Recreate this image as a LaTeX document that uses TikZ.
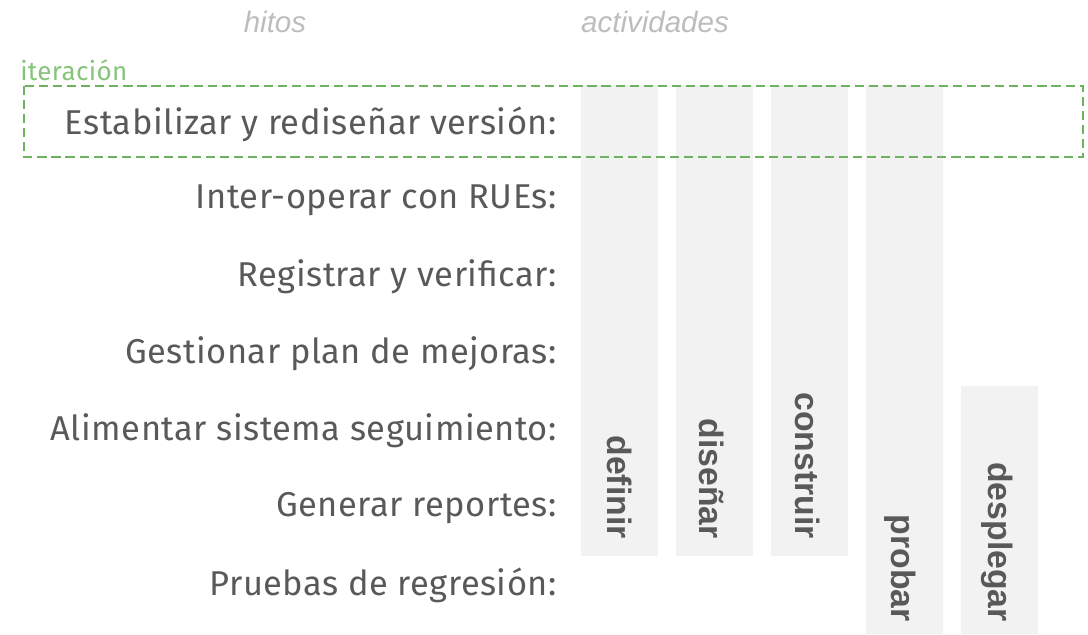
\documentclass[tikz,border=0pt]{standalone}
\usepackage{fontspec}
\setmainfont{Fira Sans}[LetterSpace=1.5]
\newfontfamily\headfont{Liberation Sans}
\usepackage{tikz}
\usetikzlibrary{positioning}

\definecolor{textgray}{HTML}{595959}
\definecolor{headgray}{HTML}{BDBDBD}
\definecolor{bargray}{HTML}{F2F2F2}
\definecolor{itergreen}{HTML}{6DB25E}
\definecolor{iterlabel}{HTML}{86C47A}

\tikzset{
  hito/.style={anchor=east, text=textgray, font=\fontsize{24.5}{30}\selectfont, inner sep=0pt},
  head/.style={text=headgray, font=\headfont\itshape\fontsize{21}{25}\selectfont, inner sep=0pt},
  activ/.style={anchor=east, rotate=-90, text=textgray, font=\headfont\bfseries\fontsize{24}{28}\selectfont, inner sep=0pt}
}

\begin{document}
\begin{tikzpicture}[x=0.025cm, y=-0.025cm]
  % Fix the page to the picture size
  \useasboundingbox (0,0) rectangle (1088,634);

  % Draw the activity bars
  \fill[bargray] (581,85) rectangle (658,556);
  \fill[bargray] (676,85) rectangle (753,556);
  \fill[bargray] (771,85) rectangle (848,556);
  \fill[bargray] (866,85) rectangle (943,634);
  \fill[bargray] (961,386) rectangle (1038,634);

  % Draw the iteration box
  \draw[itergreen, line width=1.8pt, dash pattern=on 6.5pt off 3.5pt] (24,86) rectangle (1083,157);
  \node[text=iterlabel, font=\fontsize{18.5}{22}\selectfont, anchor=west, inner sep=0pt] (iter) at (20,70) {iteración};

  % Column headers
  \node[head] (hitos) at (275,22) {hitos};
  \node[head] (actividades) at (655,22) {actividades};

  % Milestones
  \node[hito] (h1) at (557,124) {Estabilizar y rediseñar versión:};
  \node[hito] (h2) at (557,200) {Inter-operar con RUEs:};
  \node[hito] (h3) at (557,277) {Registrar y verificar:};
  \node[hito] (h4) at (557,354) {Gestionar plan de mejoras:};
  \node[hito] (h5) at (557,431) {Alimentar sistema seguimiento:};
  \node[hito] (h6) at (557,508) {Generar reportes:};
  \node[hito] (h7) at (557,585) {Pruebas de regresión:};

  % Activity labels
  \node[activ] (definir) at (620,539) {definir};
  \node[activ] (disenar) at (712,539) {diseñar};
  \node[activ] (construir) at (808,539) {construir};
  \node[activ] (probar) at (900,622) {probar};
  \node[activ] (desplegar) at (997,622) {desplegar};
\end{tikzpicture}
\end{document}
